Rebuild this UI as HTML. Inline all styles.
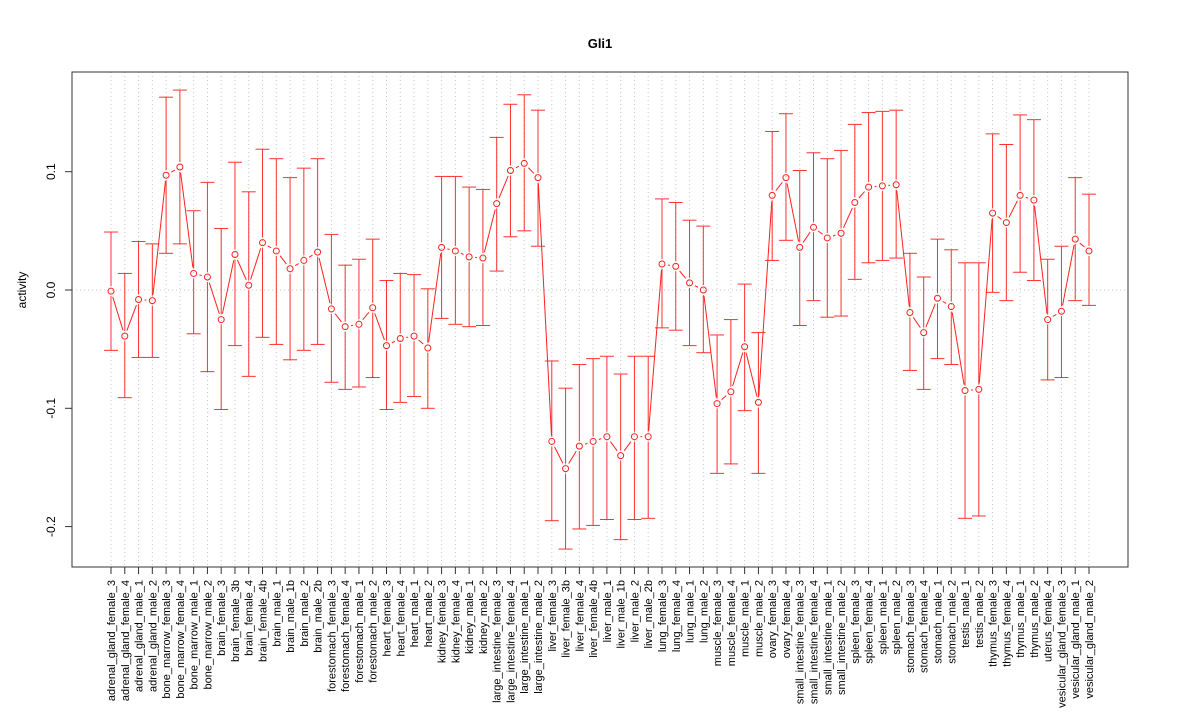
<!DOCTYPE html>
<html><head><meta charset="utf-8"><style>
body{margin:0;background:#fff;}
svg{display:block;font-family:"Liberation Sans",Arial,sans-serif;}
</style></head><body>
<svg id="chart" width="1200" height="720"></svg>
<script>
const categories=["adrenal_gland_female_3","adrenal_gland_female_4","adrenal_gland_male_1","adrenal_gland_male_2","bone_marrow_female_3","bone_marrow_female_4","bone_marrow_male_1","bone_marrow_male_2","brain_female_3","brain_female_3b","brain_female_4","brain_female_4b","brain_male_1","brain_male_1b","brain_male_2","brain_male_2b","forestomach_female_3","forestomach_female_4","forestomach_male_1","forestomach_male_2","heart_female_3","heart_female_4","heart_male_1","heart_male_2","kidney_female_3","kidney_female_4","kidney_male_1","kidney_male_2","large_intestine_female_3","large_intestine_female_4","large_intestine_male_1","large_intestine_male_2","liver_female_3","liver_female_3b","liver_female_4","liver_female_4b","liver_male_1","liver_male_1b","liver_male_2","liver_male_2b","lung_female_3","lung_female_4","lung_male_1","lung_male_2","muscle_female_3","muscle_female_4","muscle_male_1","muscle_male_2","ovary_female_3","ovary_female_4","small_intestine_female_3","small_intestine_female_4","small_intestine_male_1","small_intestine_male_2","spleen_female_3","spleen_female_4","spleen_male_1","spleen_male_2","stomach_female_3","stomach_female_4","stomach_male_1","stomach_male_2","testis_male_1","testis_male_2","thymus_female_3","thymus_female_4","thymus_male_1","thymus_male_2","uterus_female_4","vesicular_gland_female_3","vesicular_gland_male_1","vesicular_gland_male_2"];
const means=[-0.001,-0.039,-0.008,-0.009,0.097,0.104,0.014,0.011,-0.025,0.030,0.004,0.040,0.033,0.018,0.025,0.032,-0.016,-0.031,-0.029,-0.015,-0.047,-0.041,-0.039,-0.049,0.036,0.033,0.028,0.027,0.073,0.101,0.107,0.095,-0.128,-0.151,-0.132,-0.128,-0.124,-0.140,-0.124,-0.124,0.022,0.020,0.006,0.000,-0.096,-0.086,-0.048,-0.095,0.080,0.095,0.036,0.053,0.044,0.048,0.074,0.087,0.088,0.089,-0.019,-0.036,-0.007,-0.014,-0.085,-0.084,0.065,0.057,0.080,0.076,-0.025,-0.018,0.043,0.033];
const uppers=[0.049,0.014,0.041,0.039,0.163,0.169,0.067,0.091,0.052,0.108,0.083,0.119,0.111,0.095,0.103,0.111,0.047,0.021,0.026,0.043,0.008,0.014,0.013,0.001,0.096,0.096,0.087,0.085,0.129,0.157,0.165,0.152,-0.060,-0.083,-0.063,-0.058,-0.056,-0.071,-0.056,-0.056,0.077,0.074,0.059,0.054,-0.038,-0.025,0.005,-0.036,0.134,0.149,0.101,0.116,0.111,0.118,0.140,0.150,0.151,0.152,0.031,0.011,0.043,0.034,0.023,0.023,0.132,0.123,0.148,0.144,0.026,0.037,0.095,0.081];
const lowers=[-0.051,-0.091,-0.057,-0.057,0.031,0.039,-0.037,-0.069,-0.101,-0.047,-0.073,-0.040,-0.046,-0.059,-0.051,-0.046,-0.078,-0.084,-0.082,-0.074,-0.101,-0.095,-0.090,-0.100,-0.024,-0.029,-0.031,-0.030,0.016,0.045,0.050,0.037,-0.195,-0.219,-0.202,-0.199,-0.194,-0.211,-0.194,-0.193,-0.032,-0.034,-0.047,-0.053,-0.155,-0.147,-0.102,-0.155,0.025,0.042,-0.030,-0.009,-0.023,-0.022,0.009,0.023,0.025,0.027,-0.068,-0.084,-0.058,-0.063,-0.193,-0.191,-0.002,-0.009,0.015,0.008,-0.076,-0.074,-0.009,-0.013];
const yTicks=[0.1,0.0,-0.1,-0.2];
const yTickLabels=["0.1","0.0","-0.1","-0.2"];

const NS="http://www.w3.org/2000/svg";
const svg=document.getElementById('chart');
const L=72,R=1128,T=72,B=567;
const n=categories.length;
const xS=i=>111+i*(1089-111)/(n-1);
const yS=v=>290-v*1183;
function mk(tag,attrs,parent){const e=document.createElementNS(NS,tag);for(const k in attrs)e.setAttribute(k,attrs[k]);(parent||svg).appendChild(e);return e;}

let t=mk('text',{x:600,y:48,'text-anchor':'middle','font-size':13,'font-weight':'bold'});t.textContent='Gli1';


t=mk('text',{x:0,y:0,'text-anchor':'middle','font-size':12,transform:'translate(26,290) rotate(-90)'});t.textContent='activity';



const grid=mk('g',{stroke:'#c8c8c8','stroke-width':1,'stroke-dasharray':'1,3'});


categories.forEach((c,i)=>{mk('line',{x1:xS(i),x2:xS(i),y1:T,y2:B},grid);});
mk('line',{x1:L,x2:R,y1:yS(0),y2:yS(0)},grid);

const yax=mk('g',{});


yTicks.forEach((v,k)=>{const y=yS(v);mk('line',{x1:65,x2:72,y1:y,y2:y,stroke:'#333'},yax);
 const tt=mk('text',{x:0,y:0,'text-anchor':'middle','font-size':12,transform:`translate(55,${y}) rotate(-90)`},yax);tt.textContent=yTickLabels[k];});

const xax=mk('g',{});


categories.forEach((c,i)=>{const x=xS(i);mk('line',{x1:x,x2:x,y1:B,y2:B+7,stroke:'#333'},xax);
 const tt=mk('text',{x:0,y:0,'text-anchor':'end','font-size':11,transform:`translate(${x+4},${B+13}) rotate(-90)`},xax);tt.textContent=c;
 
 });

const bars=mk('g',{stroke:'#ff3030','stroke-width':1,fill:'none'});


categories.forEach((c,i)=>{const x=xS(i),ym=yS(means[i]),yu=yS(uppers[i]),yl=yS(lowers[i]);
 if(ym-5>yu)mk('line',{x1:x,x2:x,y1:yu,y2:ym-5},bars);
 if(ym+5<yl)mk('line',{x1:x,x2:x,y1:ym+5,y2:yl},bars);
 mk('line',{x1:x-7,x2:x+7,y1:yu,y2:yu},bars);
 mk('line',{x1:x-7,x2:x+7,y1:yl,y2:yl},bars);});

const line=mk('g',{stroke:'#ff2020','stroke-width':1,fill:'none'});


for(let i=0;i<n-1;i++){const x1=xS(i),y1=yS(means[i]),x2=xS(i+1),y2=yS(means[i+1]);
 const dx=x2-x1,dy=y2-y1,d=Math.hypot(dx,dy);if(d<12)continue;const ux=dx/d,uy=dy/d;
 mk('line',{x1:x1+ux*6,y1:y1+uy*6,x2:x2-ux*6,y2:y2-uy*6},line);}

const pts=mk('g',{stroke:'#ff2020','stroke-width':1,fill:'none'});


categories.forEach((c,i)=>{const p=mk('circle',{cx:xS(i),cy:yS(means[i]),r:3},pts);
 
 });

const box=mk('rect',{x:L,y:T,width:R-L,height:B-T,fill:'none',stroke:'#333','stroke-width':1});


</script>
</body></html>
